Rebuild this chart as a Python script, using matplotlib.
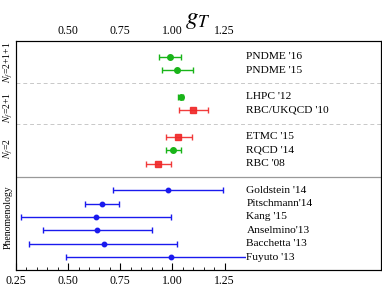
import matplotlib
matplotlib.use("Agg")
import matplotlib.pyplot as plt
import numpy as np
from matplotlib.ticker import FixedLocator

plt.rcParams['font.family'] = ['Liberation Serif', 'DejaVu Serif']
plt.rcParams['mathtext.fontset'] = 'stix'

labels = ["PNDME '16", "PNDME '15", "LHPC '12", "RBC/UKQCD '10",
          "ETMC '15", "RQCD '14", "RBC '08",
          "Goldstein '14", "Pitschmann'14", "Kang '15", "Anselmino'13",
          "Bacchetta '13", "Fuyuto '13"]
rows = [0, 1, 3, 4, 6, 7, 8, 10, 11, 12, 13, 14, 15]
values = [0.987, 1.022, 1.039, 1.10, 1.029, 1.005, 0.933,
          0.981, 0.662, 0.633, 0.640, 0.672, 0.993]
err_lo = [0.051, 0.074, 0.013, 0.070, 0.062, 0.034, 0.060,
          0.264, 0.081, 0.360, 0.259, 0.360, 0.502]
err_hi = [0.055, 0.076, 0.013, 0.072, 0.063, 0.034, 0.060,
          0.264, 0.082, 0.358, 0.261, 0.350, 0.502]
kinds = ['g', 'g', 'g', 'r', 'r', 'g', 'r',
         'b', 'b', 'b', 'b', 'b', 'b']
group_labels = ["$N_f$=2+1+1", "$N_f$=2+1", "$N_f$=2", "Phenomenology"]
group_centers = [0.4, 3.8, 6.9, 12.0]

colors = {'g': '#19b419', 'r': '#f02828', 'b': '#1a1aee'}
markers = {'g': 'o', 'r': 's', 'b': 'o'}

fig = plt.figure(figsize=(3.82, 2.87), dpi=100)
ax = fig.add_axes([0.042, 0.058, 0.955, 0.800])

for y, v, lo, hi, k in zip(rows, values, err_lo, err_hi, kinds):
    c = colors[k]
    ax.errorbar([v], [y], xerr=[[lo], [hi]], fmt=markers[k], color=c,
                ms=4 if k != 'b' else 3.2, mfc=c, mec=c, elinewidth=1.0,
                capsize=2, capthick=1.0, alpha=0.9 if k == 'r' else 1.0,
                zorder=3)

for y, lab in zip(rows, labels):
    ax.text(1.355, y, lab, fontsize=8.2, va='center', ha='left',
            bbox=dict(facecolor='white', edgecolor='none', pad=0.3), zorder=5)

ax.axhline(2, color='#c8c8c8', lw=0.7, ls=(0, (4, 3)), zorder=1)
ax.axhline(5, color='#c8c8c8', lw=0.7, ls=(0, (4, 3)), zorder=1)
ax.axhline(9, color='#999999', lw=0.9, zorder=1)

ax.set_xlim(0.25, 2.0)
ax.set_ylim(16.0, -1.2)
ax.set_yticks([])

ax.xaxis.set_major_locator(FixedLocator([0.25, 0.5, 0.75, 1.0, 1.25]))
ax.xaxis.set_minor_locator(FixedLocator(np.round(np.arange(0.25, 1.2501, 0.05), 2)))
ax.set_xticklabels(['0.25', '0.50', '0.75', '1.00', '1.25'])
ax.tick_params(axis='x', which='both', direction='in', top=True, bottom=True,
               labelsize=8.5, pad=3)
ax.tick_params(axis='x', which='major', length=5, width=0.8)
ax.tick_params(axis='x', which='minor', length=2.5, width=0.6)

ax2 = ax.twiny()
ax2.set_xlim(ax.get_xlim())
ax2.xaxis.set_major_locator(FixedLocator([0.5, 0.75, 1.0, 1.25]))
ax2.set_xticklabels(['0.50', '0.75', '1.00', '1.25'])
ax2.tick_params(axis='x', which='both', length=0, labelsize=8.5, pad=3)

for s in ax.spines.values():
    s.set_linewidth(0.8)
    s.set_color('#333333')

for gl, gc in zip(group_labels, group_centers):
    ax.text(-0.022, gc, gl, transform=ax.get_yaxis_transform(), rotation=90,
            va='center', ha='center', fontsize=7)

fig.text(0.518, 0.93, '$g_T$', fontsize=18, ha='center', va='center')

fig.savefig('out.png', dpi=100)
